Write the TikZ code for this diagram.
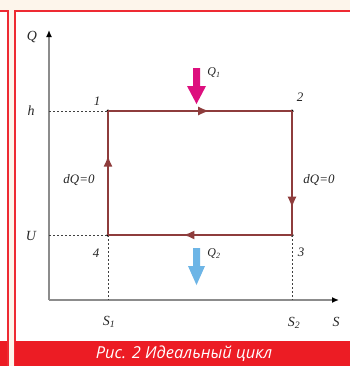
\documentclass[tikz,border=0pt]{standalone}
\usepackage{fontspec}
\setmainfont{Liberation Serif}
\newfontfamily\capfont{Open Sans}
\usetikzlibrary{arrows.meta,decorations.markings}
\definecolor{bgbeige}{HTML}{FDF5EB}
\definecolor{frred}{HTML}{EE2A32}
\definecolor{barred}{HTML}{EC1C24}
\definecolor{cyc}{HTML}{8E3C3C}
\definecolor{axg}{HTML}{8C8C8C}
\definecolor{magq}{HTML}{DD0F7E}
\definecolor{blueq}{HTML}{6DB5E6}
\tikzset{
  lbl/.style={font=\fontsize{14}{14}\selectfont\itshape, inner sep=0pt, text=black!85},
  num/.style={font=\fontsize{13}{13}\selectfont\itshape, inner sep=0pt, text=black!85},
  axisline/.style={axg, line width=1.3bp, -{Latex[length=7bp,width=6bp,black]}},
  guide/.style={black!75, line width=0.9bp, dash pattern=on 2bp off 2bp},
  cycline/.style={cyc, line width=1.6bp},
  midarrow/.style={postaction={decorate}, decoration={markings, mark=at position #1 with {\arrow{Latex[length=11bp,width=9bp,cyc]}}}},
  cornerdot/.style={circle, fill=black, inner sep=0pt, minimum size=3.5bp},
}
\begin{document}
\begin{tikzpicture}[x=1bp,y=-1bp]
\useasboundingbox (0,0) rectangle (350,366);
% background and frames
\fill[bgbeige] (0,0) rectangle (350,366);
\fill[white!97!bgbeige] (0,11) rectangle (8,341);
\fill[white] (15,11) rectangle (352,341);
\draw[frred, line width=2bp] (-2,11) -- (8,11) -- (8,368);
\draw[frred, line width=2bp] (15,368) -- (15,11) -- (352,11);
\fill[barred] (0,341) rectangle (7,366);
\fill[barred] (15,341) rectangle (350,366);
\node[text=white, font=\capfont\fontsize{16.5}{16.5}\selectfont\itshape, inner sep=0pt] (cap) at (184,354) {Рис. 2 Идеальный цикл};
% axes
\coordinate (o) at (49,300);
\coordinate (ytip) at (49,30);
\coordinate (xtip) at (339,300);
\draw[axisline] (o) -- (ytip);
\draw[axisline] (o) -- (xtip);
% cycle corners
\node[cornerdot] (p1) at (108,111) {};
\node[cornerdot] (p2) at (292,111) {};
\node[cornerdot] (p3) at (292,235) {};
\node[cornerdot] (p4) at (108,235) {};
\coordinate (hax) at (49,111);
\coordinate (uax) at (49,235);
\coordinate (s1) at (108,300);
\coordinate (s2) at (292,300);
\draw[guide] (hax) -- (p1.center);
\draw[guide] (uax) -- (p4.center);
\draw[guide] (p4.center) -- (s1);
\draw[guide] (p3.center) -- (s2);
% cycle
\draw[cycline, midarrow=0.55] (p1.center) -- (p2.center);
\draw[cycline, midarrow=0.78] (p2.center) -- (p3.center);
\draw[cycline, midarrow=0.59] (p3.center) -- (p4.center);
\draw[cycline, midarrow=0.64] (p4.center) -- (p1.center);
% heat arrows
\fill[magq] (193,68) -- (200,68) -- (200,86) -- (206,86) -- (196.5,104) -- (187,86) -- (193,86) -- cycle;
\fill[blueq] (193,248) -- (200,248) -- (200,266) -- (205,266) -- (196.5,285) -- (188,266) -- (193,266) -- cycle;
% labels
\node[lbl] (lq) at (32,37) {Q};
\node[lbl] (lh) at (31,111) {h};
\node[lbl] (lu) at (31,236) {U};
\node[lbl] (ls1) at (109,322) {S\textsubscript{1}};
\node[lbl] (ls2) at (294,323) {S\textsubscript{2}};
\node[lbl] (ls) at (336,322) {S};
\node[num] (n1) at (97,101) {1};
\node[num] (n2) at (300,97) {2};
\node[num] (n3) at (301,252) {3};
\node[num] (n4) at (96,253) {4};
\node[lbl, font=\fontsize{13}{13}\selectfont\itshape] (dq1) at (79,180) {dQ=0};
\node[lbl, font=\fontsize{13}{13}\selectfont\itshape] (dq2) at (319,180) {dQ=0};
\node[lbl, font=\fontsize{12}{12}\selectfont\itshape] (q1) at (214,73) {Q\textsubscript{1}};
\node[lbl, font=\fontsize{12}{12}\selectfont\itshape] (q2) at (214,254) {Q\textsubscript{2}};
\end{tikzpicture}
\end{document}
